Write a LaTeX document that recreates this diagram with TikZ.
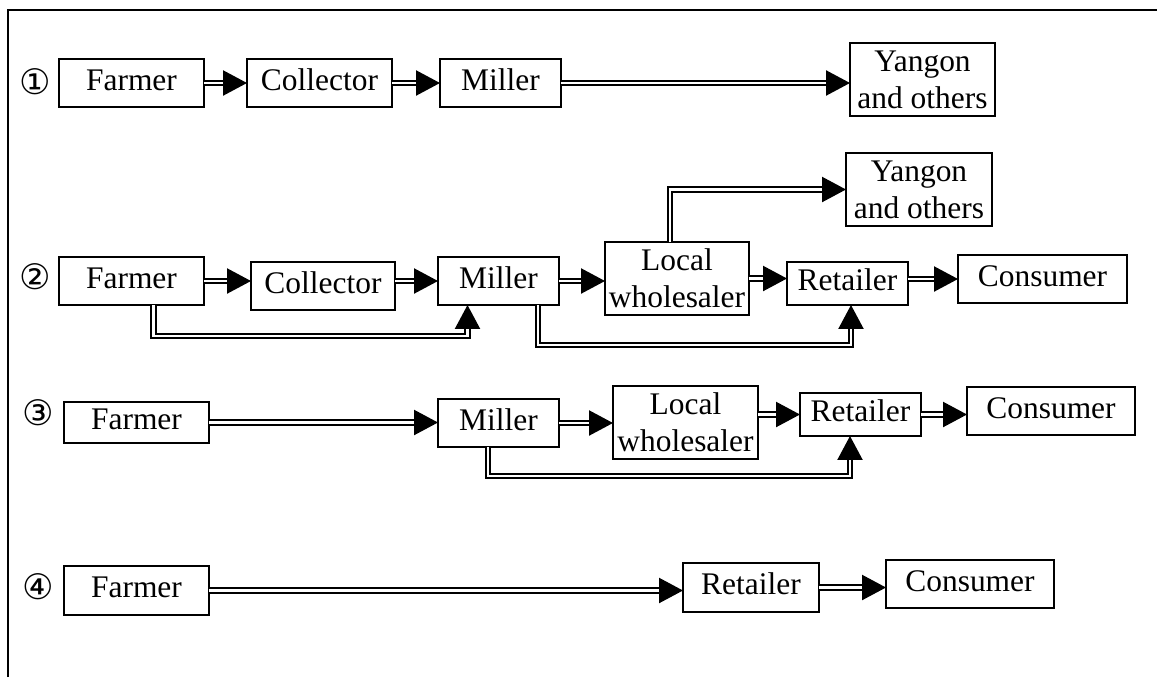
\documentclass[tikz,border=0pt]{standalone}
\usepackage{fontspec}
\setmainfont{Liberation Serif}
\newfontfamily\circfont{DejaVu Sans}
\usetikzlibrary{calc,arrows.meta}

\begin{document}
\begin{tikzpicture}[x=0.02cm, y=-0.02cm,
  stage/.style={draw, line width=1.1pt, inner sep=0pt, outer sep=0pt,
    minimum height=0.96cm, font=\fontsize{17.9pt}{20.9pt}\selectfont,
    text height=0.5cm, text depth=0.22cm},
  stagetwo/.style={draw, line width=1.1pt, inner sep=0pt, outer sep=0pt,
    minimum height=1.46cm, align=center,
    font=\fontsize{17.9pt}{20.9pt}\selectfont},
  num/.style={inner sep=0pt, font=\circfont\fontsize{20pt}{20pt}\selectfont},
  flow/.style={double, line width=1.3pt, double distance=1.2pt,
    -{Triangle[length=0.48cm,width=0.5cm]}}]
\useasboundingbox (0,0) rectangle (1157,677);
\draw[line width=1.2pt] (8,677) -- (8,10) -- (1157,10);

% route 1
\node[num] (n1) at (35,82) {①};
\node[stage, minimum width=2.9cm] (f1) at (131.5,83) {Farmer};
\node[stage, minimum width=2.9cm] (c1) at (319.5,83) {Collector};
\node[stage, minimum width=2.42cm] (m1) at (500.5,83) {Miller};
\node[stagetwo, minimum width=2.9cm] (y1) at (922.5,79.5) {Yangon\\and others};
\draw[flow] (f1.east) -- (c1.west);
\draw[flow] (c1.east) -- (m1.west);
\draw[flow] (m1.east) -- (m1.east -| y1.west);

% route 2
\node[num] (n2) at (35,277) {②};
\node[stage, minimum width=2.9cm] (f2) at (131.5,281) {Farmer};
\node[stage, minimum width=2.88cm] (c2) at (323,286) {Collector};
\node[stage, minimum width=2.42cm] (m2) at (498.5,281) {Miller};
\node[stagetwo, minimum width=2.88cm] (w2) at (677,278.5) {Local\\wholesaler};
\node[stage, minimum width=2.42cm, minimum height=0.86cm] (r2) at (847.5,283.5) {Retailer};
\node[stage, minimum width=3.38cm] (s2) at (1042.5,279) {Consumer};
\node[stagetwo, minimum width=2.92cm] (y2) at (919,189.5) {Yangon\\and others};
\draw[flow] (f2.east) -- (f2.east -| c2.west);
\draw[flow] (c2.east |- m2.west) -- (m2.west);
\draw[flow] (m2.east) -- (m2.east -| w2.west);
\draw[flow] (w2.east) -- (w2.east -| r2.west);
\draw[flow] (r2.east |- s2.west) -- (s2.west);
\draw[flow] ($(w2.north)+(-7,0)$) |- (y2.west);
\draw[flow] ($(f2.south)+(22,0)$) -- ++(0,31) -| ($(m2.south)+(-31,0)$);
\draw[flow] ($(m2.south)+(39.5,0)$) -- ++(0,40) -| ($(r2.south)+(3.5,0)$);

% route 3
\node[num] (n3) at (38,413) {③};
\node[stage, minimum width=2.9cm, minimum height=0.82cm] (f3) at (136.5,422.5) {Farmer};
\node[stage, minimum width=2.42cm] (m3) at (498.5,423) {Miller};
\node[stagetwo, minimum width=2.9cm] (w3) at (685.5,422.5) {Local\\wholesaler};
\node[stage, minimum width=2.42cm, minimum height=0.86cm] (r3) at (860.5,414.5) {Retailer};
\node[stage, minimum width=3.36cm] (s3) at (1051,411) {Consumer};
\draw[flow] (f3.east) -- (f3.east -| m3.west);
\draw[flow] (m3.east) -- (m3.east -| w3.west);
\draw[flow] (w3.east |- r3.west) -- (r3.west);
\draw[flow] (r3.east) -- (r3.east -| s3.west);
\draw[flow] ($(m3.south)+(-10.5,0)$) -- ++(0,29) -| ($(r3.south)+(-10.5,0)$);

% route 4
\node[num] (n4) at (38,587) {④};
\node[stage, minimum width=2.9cm, minimum height=0.98cm] (f4) at (136.5,590.5) {Farmer};
\node[stage, minimum width=2.72cm, minimum height=0.98cm] (r4) at (751,587.5) {Retailer};
\node[stage, minimum width=3.36cm] (s4) at (970,584) {Consumer};
\draw[flow] (f4.east) -- (f4.east -| r4.west);
\draw[flow] (r4.east) -- (r4.east -| s4.west);
\end{tikzpicture}
\end{document}
